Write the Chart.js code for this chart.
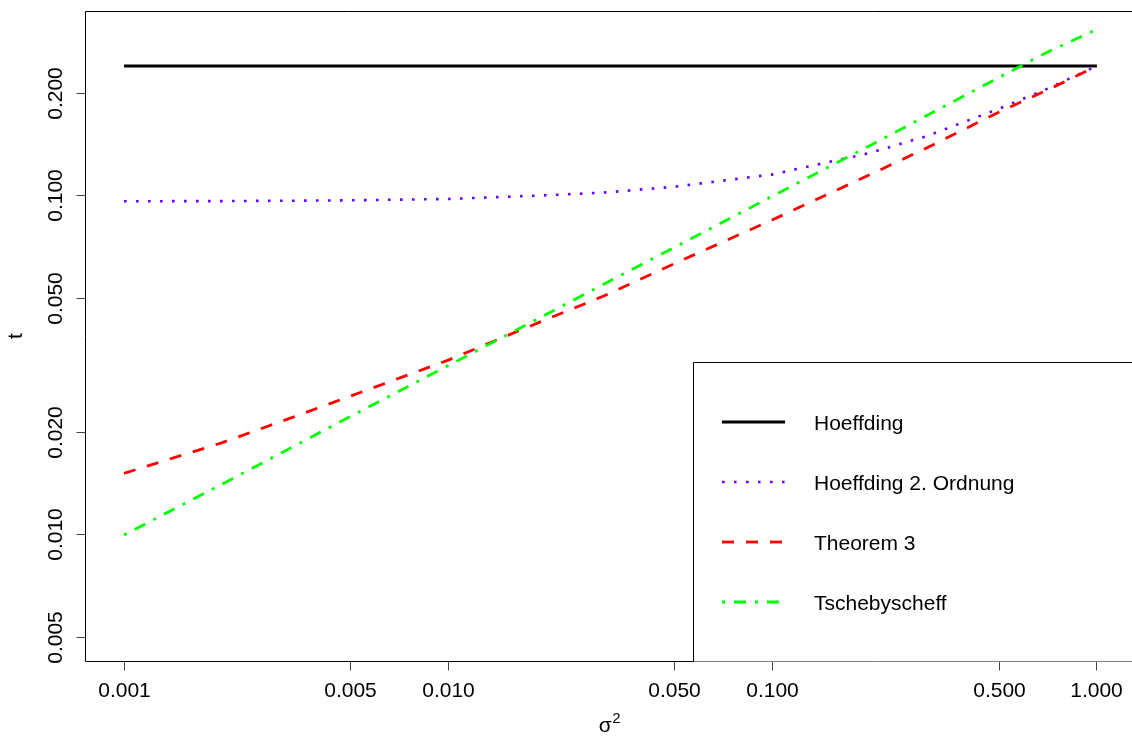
<!DOCTYPE html>
<html>
<head>
<meta charset="utf-8">
<script src="https://cdn.jsdelivr.net/npm/chart.js@4/dist/chart.umd.min.js"></script>
<style>
html, body { margin: 0; padding: 0; overflow: hidden; background: #fff; width: 1132px; height: 738px; }
#wrap { width: 1140px; height: 738px; }
canvas { display: block; }
</style>
</head>
<body>
<div id="wrap"><canvas id="c" width="1140" height="738"></canvas></div>
<script>
// ---- data ----
const sigma2 = [0.001, 0.002, 0.003, 0.005, 0.01, 0.02, 0.03, 0.05, 0.1, 0.2, 0.3, 0.5, 0.7, 1.0];
const hoeffding = [0.2418, 0.2418, 0.2418, 0.2418, 0.2418, 0.2418, 0.2418, 0.2418, 0.2418, 0.2418, 0.2418, 0.2418, 0.2418, 0.2418];
const hoeffding2 = [0.0965, 0.0966, 0.0968, 0.0971, 0.0980, 0.1005, 0.1023, 0.1065, 0.1158, 0.1340, 0.1504, 0.1810, 0.2068, 0.2418];
const theorem3 = [0.0152, 0.0187, 0.0215, 0.0257, 0.0328, 0.0432, 0.0506, 0.0633, 0.0851, 0.1157, 0.1389, 0.1770, 0.2050, 0.2418];
const tschebyscheff = [0.0100, 0.0141, 0.0173, 0.0224, 0.0316, 0.0447, 0.0548, 0.0707, 0.1000, 0.1410, 0.1730, 0.2240, 0.2650, 0.3100];

const seriesNames = ['Hoeffding', 'Hoeffding 2. Ordnung', 'Theorem 3', 'Tschebyscheff'];
const xTicks = [0.001, 0.005, 0.010, 0.050, 0.100, 0.500, 1.000];
const xTickLabels = ['0.001', '0.005', '0.010', '0.050', '0.100', '0.500', '1.000'];
const yTicks = [0.005, 0.010, 0.020, 0.050, 0.100, 0.200];
const yTickLabels = ['0.005', '0.010', '0.020', '0.050', '0.100', '0.200'];
const xTitle = 'σ';
const xTitleSup = '2';
const yTitle = 't';

// ---- styles ----
const colors = ['#000000', '#6a00ff', '#ff0000', '#00ff00'];
const widths = [2.8, 2.6, 2.8, 2.8];
const dashes = [[], [2.6, 9.4], [12, 12], [3, 9, 12, 9]];
const FONT = '"Liberation Sans", Arial, Helvetica, sans-serif';

function pts(ys) { return sigma2.map((x, i) => ({ x: x, y: ys[i] })); }
const allSeries = [hoeffding, hoeffding2, theorem3, tschebyscheff];

const datasets = allSeries.map((ys, i) => ({
  label: seriesNames[i],
  data: pts(ys),
  borderColor: colors[i],
  borderWidth: widths[i],
  borderDash: dashes[i],
  borderCapStyle: 'butt',
  borderJoinStyle: 'round',
  pointRadius: 0,
  tension: 0,
  fill: false,
  order: 3 - i
}));

const rPlot = {
  id: 'rPlot',
  afterDraw(chart) {
    const ctx = chart.ctx;
    const a = chart.chartArea;
    const xs = chart.scales.x, ys = chart.scales.y;
    ctx.save();
    ctx.strokeStyle = '#000';
    ctx.fillStyle = '#000';
    ctx.lineWidth = 1;
    // box
    const L = Math.floor(a.left) + 0.5, T = Math.floor(a.top) + 0.5;
    const R = Math.floor(a.right) + 0.5, B = Math.floor(a.bottom) + 0.5;
    ctx.beginPath();
    ctx.rect(L, T, R - L, B - T);
    ctx.stroke();

    // x ticks
    ctx.font = '21px ' + FONT;
    ctx.textAlign = 'center';
    ctx.textBaseline = 'alphabetic';
    ctx.strokeStyle = '#444';
    xTicks.forEach((v, i) => {
      const px = Math.floor(xs.getPixelForValue(v)) + 0.5;
      ctx.beginPath();
      ctx.moveTo(px, B);
      ctx.lineTo(px, B + 9);
      ctx.stroke();
      ctx.fillText(xTickLabels[i], px, 697);
    });
    // y ticks
    yTicks.forEach((v, i) => {
      const py = Math.floor(ys.getPixelForValue(v)) + 0.5;
      ctx.beginPath();
      ctx.moveTo(L, py);
      ctx.lineTo(L - 9, py);
      ctx.stroke();
      ctx.save();
      ctx.translate(62, py);
      ctx.rotate(-Math.PI / 2);
      ctx.fillText(yTickLabels[i], 0, 0);
      ctx.restore();
    });
    // axis titles
    const cx = (a.left + a.right) / 2;
    ctx.font = '21px ' + FONT;
    ctx.textAlign = 'left';
    const w1 = ctx.measureText(xTitle).width;
    ctx.font = '15px ' + FONT;
    const w2 = ctx.measureText(xTitleSup).width;
    const start = cx - (w1 + w2) / 2 - 1;
    ctx.font = '21px ' + FONT;
    ctx.fillText(xTitle, start, 732);
    ctx.font = '15px ' + FONT;
    ctx.fillText(xTitleSup, start + w1 + 0.5, 723);

    ctx.font = '21px ' + FONT;
    ctx.textAlign = 'center';
    ctx.save();
    ctx.translate(21.5, (a.top + a.bottom) / 2);
    ctx.rotate(-Math.PI / 2);
    ctx.fillText(yTitle, 0, 0);
    ctx.restore();

    // legend
    ctx.fillStyle = '#fff';
    ctx.strokeStyle = '#000';
    ctx.fillRect(693.5, 362.5, 1200, B - 362.5);
    ctx.beginPath();
    ctx.moveTo(693.5, B);
    ctx.lineTo(693.5, 362.5);
    ctx.lineTo(1200, 362.5);
    ctx.stroke();
    chart.data.datasets.forEach((ds, i) => {
      const ly = 422 + 60 * i;
      ctx.save();
      ctx.strokeStyle = ds.borderColor;
      ctx.lineWidth = ds.borderWidth;
      ctx.lineCap = 'butt';
      ctx.setLineDash(ds.borderDash);
      ctx.beginPath();
      ctx.moveTo(722, ly);
      ctx.lineTo(785, ly);
      ctx.stroke();
      ctx.restore();
      ctx.fillStyle = '#000';
      ctx.font = '21px ' + FONT;
      ctx.textAlign = 'left';
      ctx.textBaseline = 'alphabetic';
      ctx.fillText(ds.label, 814, ly + 8);
    });
    ctx.restore();
  }
};

new Chart(document.getElementById('c'), {
  type: 'line',
  data: { datasets: datasets },
  options: {
    responsive: false,
    animation: false,
    devicePixelRatio: 1,
    layout: { padding: { left: 85, top: 11, right: 4, bottom: 77 } },
    plugins: { legend: { display: false }, tooltip: { enabled: false } },
    scales: {
      x: {
        type: 'logarithmic',
        display: false,
        bounds: 'data',
        min: Math.pow(10, -3.1203),
        max: Math.pow(10, 0.1206)
      },
      y: {
        type: 'logarithmic',
        display: false,
        bounds: 'data',
        min: Math.pow(10, -2.3717),
        max: Math.pow(10, -0.4543)
      }
    }
  },
  plugins: [rPlot]
});
</script>
</body>
</html>
